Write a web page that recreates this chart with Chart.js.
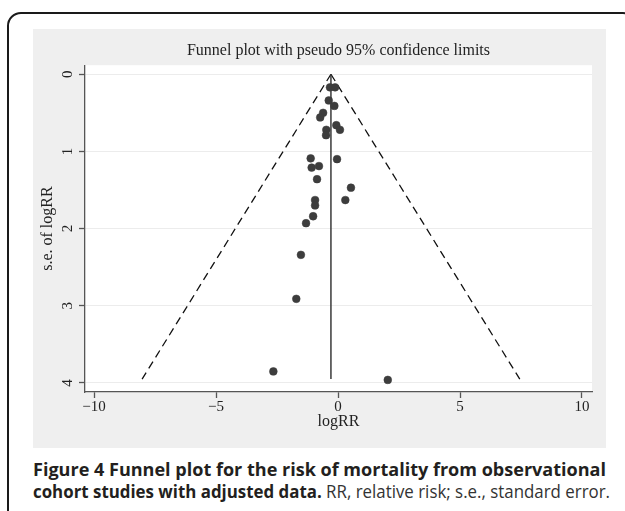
<!DOCTYPE html>
<html><head><meta charset="utf-8">
<script src="https://cdn.jsdelivr.net/npm/chart.js@4.4.1/dist/chart.umd.min.js"></script>
<style>
html,body{margin:0;padding:0;background:#fff;width:625px;height:511px;overflow:hidden;position:relative;}
#frame{position:absolute;left:7px;top:12px;width:630px;height:520px;border:2px solid #1a1a1a;border-radius:14px;box-sizing:border-box;}
#panel{position:absolute;left:33px;top:29px;width:573px;height:419px;background:#efefef;}
canvas{display:block}
.cap{position:absolute;left:33px;white-space:nowrap;font-family:"Open Sans";font-size:17.5px;color:#231f20;transform-origin:0 0;line-height:22px;}
.cap b{font-weight:700;}
.cap .reg{font-weight:400;color:#333;}
</style></head>
<body>
<div id="frame"></div>
<div id="panel"><canvas id="c" width="573" height="419"></canvas></div>
<div class="cap" id="cap1" style="top:458px"><b>Figure 4 Funnel plot for the risk of mortality from observational</b></div>
<div class="cap" id="cap2" style="top:480px"><b>cohort studies with adjusted data.</b> <span class="reg">RR, relative risk; s.e., standard error.</span></div>
<script>
// ---- data ----
const logRR   = [-0.33,-0.12,-0.38,-0.15,-0.61,-0.73,-0.07,0.08,-0.48,-0.49,-1.12,-0.04,-1.08,-0.78,-0.86,0.53,0.30,-0.94,-0.94,-1.02,-1.31,-1.52,-1.71,-2.65,2.04];
const seLogRR = [0.17,0.17,0.34,0.41,0.50,0.56,0.66,0.72,0.72,0.79,1.09,1.10,1.21,1.19,1.36,1.47,1.63,1.63,1.70,1.84,1.93,2.34,2.91,3.85,3.96];
const pooledX = [-0.29,-0.29];
const pooledY = [0,3.95];
const limitLeftX = [-0.29,-8.03];
const limitRightX = [-0.29,7.45];
const limitY = [0,3.95];
const xTicks = [-10,-5,0,5,10];
const xTickLabels = ['\u221210','\u22125','0','5','10'];
const yTicks = [0,1,2,3,4];
const yTickLabels = ['0','1','2','3','4'];

const pts = (xs, ys) => xs.map((x,i)=>({x:x,y:ys[i]}));
const serif = 'Liberation Serif';

const bgPlugin = {
  id:'bg',
  beforeDraw(chart){
    const {ctx, chartArea:a} = chart;
    ctx.save(); ctx.fillStyle='#ffffff';
    ctx.fillRect(a.left, a.top, a.right-a.left, a.bottom-a.top);
    ctx.restore();
  }
};

new Chart(document.getElementById('c'), {
  type:'scatter',
  data:{datasets:[
    {data:pts(logRR, seLogRR), pointRadius:3.9, pointHoverRadius:3.9, pointBackgroundColor:'#3d3d3d', pointBorderColor:'#3d3d3d', pointBorderWidth:0.5, showLine:false},
    {data:pts(pooledX, pooledY), showLine:true, pointRadius:0, borderColor:'#3a3a3a', borderWidth:1.5},
    {data:pts(limitLeftX, limitY), showLine:true, pointRadius:0, borderColor:'#111', borderWidth:1.3, borderDash:[8,5]},
    {data:pts(limitRightX, limitY), showLine:true, pointRadius:0, borderColor:'#111', borderWidth:1.3, borderDash:[8,5]}
  ]},
  options:{
    responsive:false, animation:false, devicePixelRatio:1,
    layout:{padding:{top:0,left:0,right:14,bottom:0}},
    plugins:{
      legend:{display:false}, tooltip:{enabled:false},
      title:{display:true, text:'Funnel plot with pseudo 95% confidence limits', fullSize:false,
        font:{family:serif, size:16, weight:'normal'}, color:'#222', padding:{top:12,bottom:5}}
    },
    scales:{
      x:{type:'linear', min:-10.37, max:10.41,
        afterBuildTicks:s=>{s.ticks = xTicks.map(v=>({value:v}));},
        afterFit:s=>{s.height=56;},
        ticks:{callback:v=>xTickLabels[xTicks.indexOf(v)], font:{family:serif,size:15}, color:'#222', padding:0, maxRotation:0, autoSkip:false},
        grid:{drawOnChartArea:false, tickLength:6, tickColor:'#555', tickWidth:1.3},
        border:{color:'#555', width:1.3},
        title:{display:true, text:'logRR', font:{family:serif,size:16}, color:'#222', padding:{top:0,bottom:17}}
      },
      y:{type:'linear', reverse:true, min:-0.117, max:4.117,
        afterBuildTicks:s=>{s.ticks = yTicks.map(v=>({value:v}));},
        afterFit:s=>{s.width=52;},
        ticks:{callback:v=>yTickLabels[yTicks.indexOf(v)], font:{family:serif,size:15}, color:'#222', padding:7, minRotation:90, maxRotation:90, crossAlign:'center', autoSkip:false},
        grid:{color:'#ececec', lineWidth:1, tickLength:6, tickColor:'#555', tickWidth:1.3},
        border:{color:'#555', width:1.3},
        title:{display:true, text:'s.e. of logRR', font:{family:serif,size:16}, color:'#222', padding:{top:5,bottom:0}}
      }
    }
  },
  plugins:[bgPlugin]
});

// fit caption lines to the reference widths
function fit(id, w){
  const el=document.getElementById(id);
  const nat=el.getBoundingClientRect().width;
  el.style.transform='scaleX('+(w/nat)+')';
}
document.fonts.ready.then(()=>{fit('cap1',573); fit('cap2',577);});
</script>
</body></html>
